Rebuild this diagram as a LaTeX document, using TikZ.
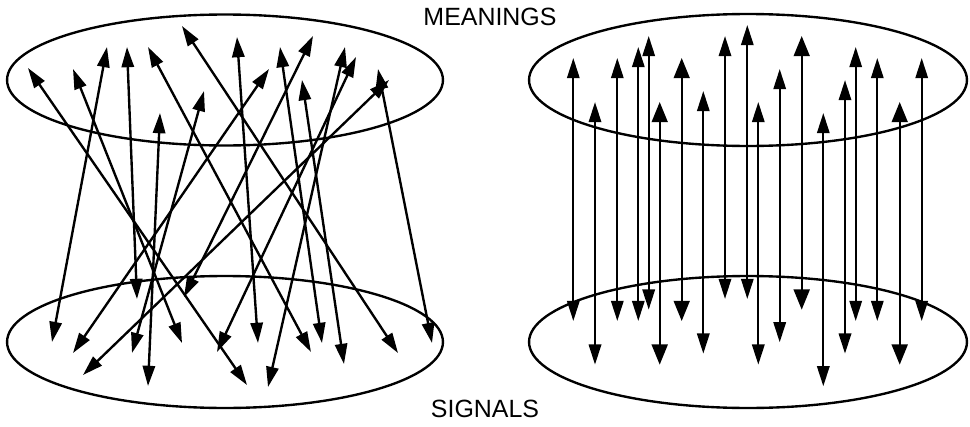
\documentclass[tikz,border=0pt]{standalone}
\usepackage{fontspec}
\setmainfont{Liberation Sans}
\usetikzlibrary{arrows.meta}

\begin{document}
\begin{tikzpicture}[x=0.02cm, y=-0.02cm,
    maplink/.style={line width=1.35pt, {Triangle[length=11.5pt,width=#1]}-{Triangle[length=11.5pt,width=#1]}},
    maplink/.default=7pt,
    rim/.style={line width=1.35pt},
    setname/.style={font=\fontsize{14.2}{17}\selectfont, inner sep=0pt}]
  \useasboundingbox (0,0) rectangle (970,426);

  % Draw the meaning and signal sets
  \draw[rim] (225,80) ellipse [x radius=4.36cm, y radius=1.31cm];
  \draw[rim] (225,342) ellipse [x radius=4.36cm, y radius=1.32cm];
  \draw[rim] (748,80) ellipse [x radius=4.38cm, y radius=1.32cm];
  \draw[rim] (748,342) ellipse [x radius=4.38cm, y radius=1.32cm];

  % Labels
  \node[setname] (meanings) at (490,17) {MEANINGS};
  \node[setname] (signals) at (485,409) {SIGNALS};

  % Left: tangled mapping
  \foreach \i/\mx/\my/\sx/\sy in {1/28/68/247/385, 2/73/69/182/343, 3/107/47/52/342,
      4/127/47/137/299, 5/148/47/311/352, 6/182/26/398/353, 7/237/37/258/343,
      8/280/47/322/343, 9/313/36/184/297, 10/269/69/73/353, 11/204/91/132/353,
      12/160/113/148/386, 13/345/47/268/387, 14/356/57/217/352, 15/302/80/344/364,
      16/389/80/83/375, 17/378/69/432/343} {
    \coordinate (ml\i) at (\mx,\my);
    \coordinate (sl\i) at (\sx,\sy);
    \draw[maplink] (ml\i) -- (sl\i);
  }

  % Right: one-to-one mapping
  \foreach \i/\x/\t/\b/\w in {1/573.3/58/321/7pt, 2/595/102/364.7/7pt,
      3/617.3/58/321/7pt, 4/638.3/47/321/7pt, 5/648.7/36/309.7/7pt,
      6/659.7/102/364.7/9pt, 7/681.7/58/321/9pt, 8/703.3/91/353.7/7pt,
      9/725/36/299/7pt, 10/747.3/25/299/7pt, 11/758.3/102/364.7/7pt,
      12/779.7/69/342.3/7pt, 13/801.7/36/309.7/9pt, 14/823.3/113/386.3/7pt,
      15/845/80/353.7/7pt, 16/855.7/47/321/7pt, 17/877.3/58/321/7pt,
      18/899.7/102/364.7/9pt, 19/921.7/58/321/7pt} {
    \coordinate (mr\i) at (\x,\t);
    \coordinate (sr\i) at (\x,\b);
    \draw[maplink=\w] (mr\i) -- (sr\i);
  }
\end{tikzpicture}
\end{document}
